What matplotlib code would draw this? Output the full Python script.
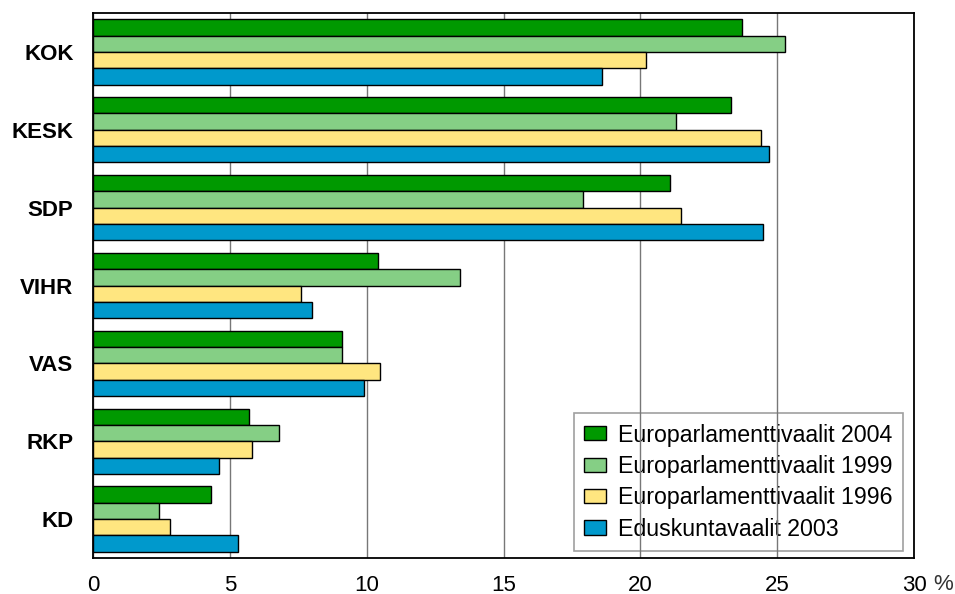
import numpy as np
import matplotlib
matplotlib.use("Agg")
import matplotlib.pyplot as plt

plt.rcParams['font.family'] = ['Liberation Sans', 'DejaVu Sans']

parties = ["KOK", "KESK", "SDP", "VIHR", "VAS", "RKP", "KD"]
series_names = ["Europarlamenttivaalit 2004", "Europarlamenttivaalit 1999",
                "Europarlamenttivaalit 1996", "Eduskuntavaalit 2003"]
ep2004 = [23.7, 23.3, 21.1, 10.4, 9.1, 5.7, 4.3]
ep1999 = [25.3, 21.3, 17.9, 13.4, 9.1, 6.8, 2.4]
ep1996 = [20.2, 24.4, 21.5, 7.6, 10.5, 5.8, 2.8]
ed2003 = [18.6, 24.7, 24.5, 8.0, 9.9, 4.6, 5.3]
colors = ["#009900", "#85CF85", "#FFE680", "#0099CC"]

fig = plt.figure(figsize=(9.55, 5.94), dpi=100)
ax = fig.add_axes([93 / 955, 1 - 558 / 594, (914 - 93) / 955, (558 - 13) / 594])

y = np.arange(len(parties))
h = 0.21
for i, vals in enumerate([ep2004, ep1999, ep1996, ed2003]):
    ax.barh(y - 0.315 + i * h, vals, height=h, color=colors[i],
            edgecolor="black", linewidth=1, label=series_names[i], zorder=3)

ax.set_xlim(0, 30)
ax.set_ylim(len(parties) - 0.5, -0.5)
ax.set_xticks([0, 5, 10, 15, 20, 25, 30])
ax.set_xticklabels(["0", "5", "10", "15", "20", "25", "30"], fontsize=16)
ax.set_yticks(y)
ax.set_yticklabels(parties, fontsize=16, fontweight="bold")
ax.tick_params(length=0)
ax.tick_params(axis="y", pad=14)
ax.tick_params(axis="x", pad=12)
ax.grid(axis="x", color="#777777", linewidth=1, zorder=0)
for s in ax.spines.values():
    s.set_linewidth(1.3)
    s.set_color("black")
ax.text(943 / 955, 1 - 585 / 594, "%", transform=fig.transFigure, fontsize=16,
        ha="center", va="center", color="#333333")

leg = ax.legend(loc="lower right", bbox_to_anchor=(903 / 955, 1 - 551 / 594),
                bbox_transform=fig.transFigure, fontsize=16.7, frameon=True,
                fancybox=False, edgecolor="#888888", handlelength=0.96,
                handleheight=0.57, handletextpad=0.5, labelspacing=0.36,
                borderpad=0.45, borderaxespad=0)
leg.get_frame().set_facecolor("none")
leg.get_frame().set_linewidth(1.2)
leg.set_zorder(1)

fig.savefig("out.png", dpi=100)
